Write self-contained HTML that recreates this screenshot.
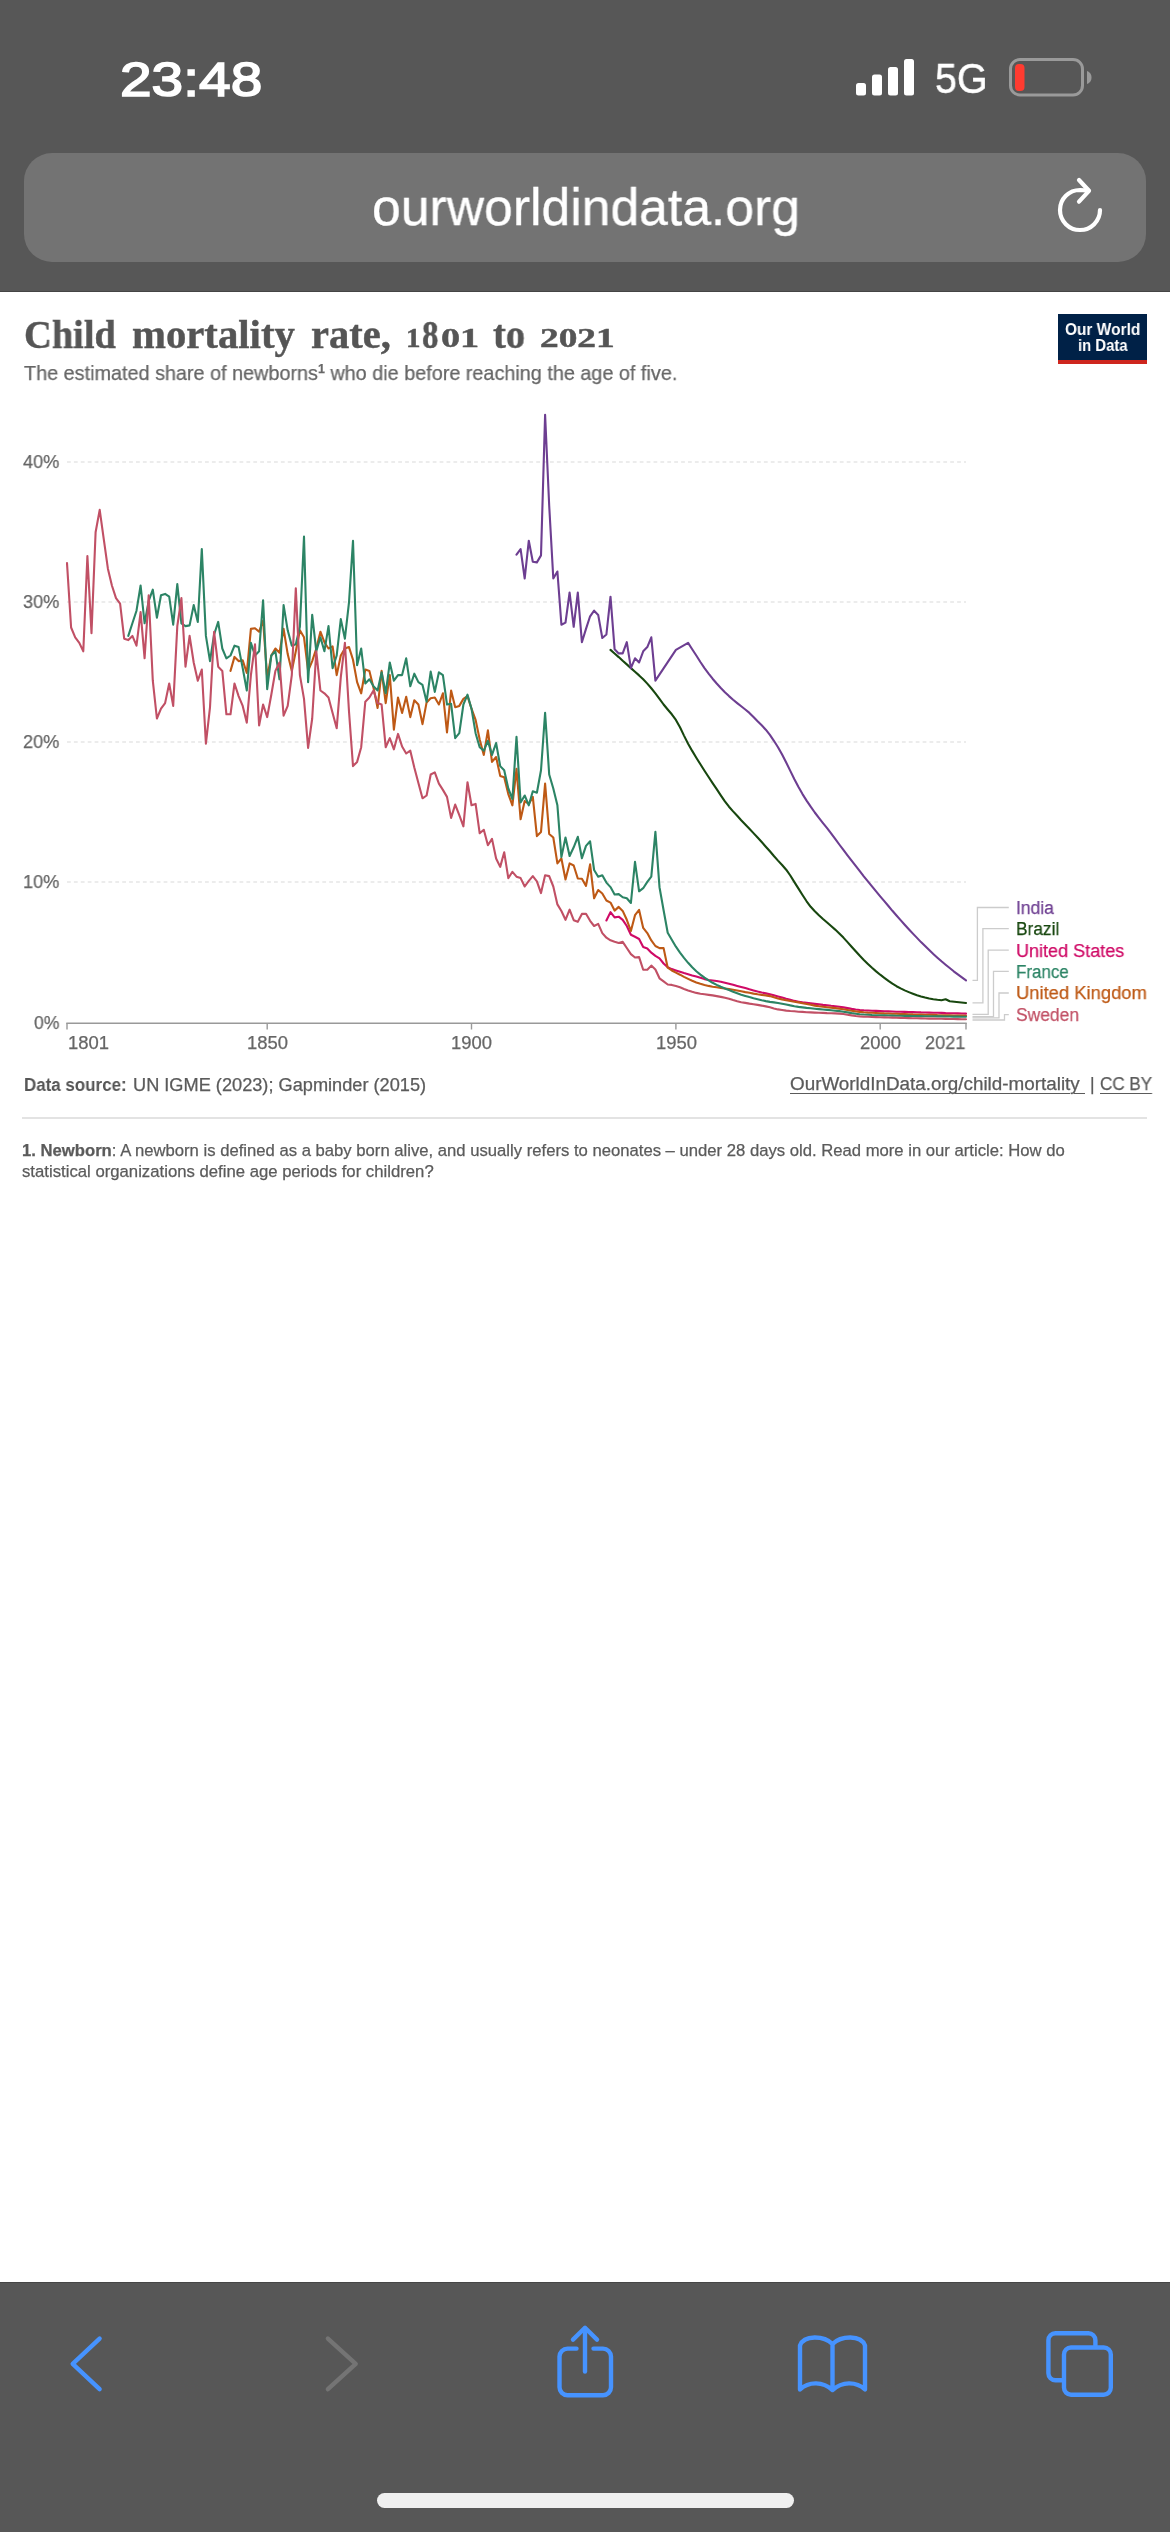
<!DOCTYPE html>
<html><head><meta charset="utf-8"><title>Child mortality rate</title>
<style>
html,body{margin:0;padding:0;background:#fff;}
body{width:1170px;height:2532px;position:relative;overflow:hidden;font-family:"Liberation Sans",sans-serif;}
.bar{position:absolute;left:0;width:1170px;background:#575757;}
#top{top:0;height:292px;border-bottom:0;}
#bot{top:2282px;height:250px;}
#urlbox{position:absolute;left:24px;top:153px;width:1122px;height:109px;border-radius:28px;background:#737373;}
#home{position:absolute;left:377px;top:2493px;width:417px;height:15px;border-radius:8px;background:#f0f0f0;}
.t{position:absolute;white-space:nowrap;transform-origin:0 50%;will-change:transform;}
.os{font-size:0.72em;letter-spacing:0.04em;}
.sup{font-size:0.62em;position:relative;top:-0.55em;font-weight:bold;}
u{text-decoration-thickness:1.2px;text-underline-offset:2.5px;}
#logo{position:absolute;left:1058.2px;top:314px;width:88.8px;height:45.5px;background:#002147;border-bottom:4px solid #ce261e;}
#sep{position:absolute;left:22px;top:1117px;width:1125px;height:1.5px;background:#e3e3e3;}
svg{position:absolute;left:0;top:0;}
</style></head><body>
<div id="top" class="bar"></div>
<div id="urlbox"></div>
<div id="bot" class="bar"></div>
<div id="home"></div>
<div id="logo"></div>
<div id="sep"></div>
<svg width="1170" height="2532" viewBox="0 0 1170 2532">
<!-- top/bottom bar edge lines -->
<rect x="0" y="291" width="1170" height="1" fill="#454545"/>
<rect x="0" y="2282" width="1170" height="1" fill="#454545"/>
<!-- signal bars -->
<g fill="#fff">
<rect x="856" y="83" width="10" height="12.5" rx="2.5"/>
<rect x="872" y="74.5" width="10" height="21" rx="2.5"/>
<rect x="888" y="67" width="10" height="28.5" rx="2.5"/>
<rect x="904" y="59" width="10" height="36.5" rx="2.5"/>
</g>
<!-- battery -->
<rect x="1010.5" y="59.5" width="72" height="35.5" rx="9.5" fill="none" stroke="#9a9a9a" stroke-width="3"/>
<path d="M1087 71 v13 c3.5 -1.2 4.5 -4 4.5 -6.5 c0 -2.500 -1 -5.300 -4.500 -6.500z" fill="#9a9a9a"/>
<rect x="1015" y="64" width="9.500" height="27" rx="4" fill="#ff3b30"/>
<!-- reload -->
<g fill="none" stroke="#fff" stroke-width="4.2" stroke-linecap="round" stroke-linejoin="round">
<path d="M1100 210 A20 20 0 1 1 1080 190 L1088.500 190.600"/>
<polyline points="1079,180 1089,190.800 1079,201.700"/>
</g>
<!-- chart -->
<g stroke="#dadada" stroke-width="1.2" stroke-dasharray="3.8,3.1" fill="none"><line x1="67" y1="462.0" x2="966" y2="462.0"/><line x1="67" y1="602.0" x2="966" y2="602.0"/><line x1="67" y1="742.0" x2="966" y2="742.0"/><line x1="67" y1="882.0" x2="966" y2="882.0"/></g>
<g stroke="#999" stroke-width="1.4" fill="none"><line x1="66.300" y1="1023.300" x2="966.700" y2="1023.300"/><line x1="67.0" y1="1023" x2="67.0" y2="1029.5"/><line x1="267.2" y1="1023" x2="267.2" y2="1029.5"/><line x1="471.5" y1="1023" x2="471.5" y2="1029.5"/><line x1="675.9" y1="1023" x2="675.9" y2="1029.5"/><line x1="880.2" y1="1023" x2="880.2" y2="1029.5"/><line x1="966.0" y1="1023" x2="966.0" y2="1029.5"/></g>
<g stroke="#ccc" stroke-width="1.3" fill="none"><polyline points="972.5,980.3 977.4,980.3 977.4,907.5 1008.8,907.5"/><polyline points="972.5,1002.9 982.9,1002.9 982.9,928.7 1008.8,928.7"/><polyline points="972.5,1014.3 988.2,1014.3 988.2,950.2 1008.8,950.2"/><polyline points="972.5,1016.6 993.5,1016.6 993.5,971.4 1008.8,971.4"/><polyline points="972.5,1017.9 999.0,1017.9 999.0,993.0 1008.8,993.0"/><polyline points="972.5,1020.0 1004.5,1020.0 1004.5,1014.7 1008.8,1014.7"/></g>
<g fill="none" stroke-width="2.1" stroke-linejoin="round" stroke-linecap="round">
<polyline points="610.5,649.9 614.6,653.5 618.7,657.1 622.7,660.8 626.8,664.4 630.9,668.1 635.0,671.7 639.1,675.4 643.2,679.3 647.3,683.6 651.3,688.3 655.4,693.3 659.5,698.8 663.6,704.5 667.7,709.5 671.8,714.3 675.9,719.9 680.0,727.2 684.0,735.6 688.1,743.7 692.2,750.9 696.3,757.7 700.4,764.3 704.5,770.7 708.6,777.0 712.6,783.1 716.7,789.2 720.8,795.3 724.9,801.3 729.0,806.7 733.1,811.4 737.2,815.8 741.2,820.2 745.3,824.5 749.4,828.8 753.5,833.1 757.6,837.5 761.7,842.0 765.8,846.7 769.9,851.3 773.9,856.0 778.0,860.6 782.1,865.0 786.2,869.7 790.3,875.5 794.4,882.1 798.5,888.6 802.5,895.0 806.6,901.3 810.7,906.8 814.8,911.2 818.9,915.2 823.0,919.0 827.1,922.5 831.1,926.0 835.2,929.6 839.3,933.4 843.4,937.6 847.5,942.1 851.6,946.7 855.7,951.3 859.8,955.8 863.8,959.9 867.9,963.9 872.0,967.8 876.1,971.4 880.2,974.7 884.3,977.8 888.4,980.9 892.4,983.7 896.5,986.2 900.6,988.4 904.7,990.4 908.8,992.1 912.9,993.7 917.0,995.2 921.0,996.4 925.1,997.5 929.2,998.5 933.3,999.2 937.4,999.8 941.5,1000.2 945.6,999.2 949.7,1001.3 966.0,1003.0" stroke="#18470F"/>
<polyline points="516.5,554.7 520.6,549.1 524.7,578.5 528.8,540.7 532.8,561.7 536.9,562.4 541.0,555.4 545.1,414.7 549.2,505.7 553.3,578.5 557.4,571.5 561.4,624.7 565.5,622.6 569.6,592.5 573.7,626.8 577.8,592.5 581.9,642.2 586.0,628.9 590.1,616.3 594.1,610.7 598.2,614.9 602.3,638.0 606.4,634.5 610.5,596.7 614.6,649.2 618.7,653.4 622.7,653.4 626.8,642.2 630.9,668.1 635.0,658.3 639.1,662.5 643.2,651.3 647.3,647.1 651.3,637.3 655.4,680.7 675.9,649.9 688.1,642.9 692.2,649.2 696.3,655.5 700.4,662.0 704.5,668.1 708.6,673.6 712.6,678.7 716.7,683.5 720.8,688.0 724.9,692.2 729.0,696.1 733.1,699.7 737.2,703.1 741.2,706.3 745.3,709.5 749.4,712.9 753.5,717.0 757.6,721.3 761.7,725.3 765.8,729.7 769.9,734.9 773.9,740.8 778.0,747.2 782.1,754.6 786.2,762.6 790.3,770.9 794.4,779.3 798.5,787.1 802.5,794.1 806.6,800.6 810.7,806.7 814.8,812.5 818.9,817.9 823.0,823.1 827.1,828.1 831.1,833.3 835.2,838.9 839.3,844.5 843.4,849.9 847.5,855.3 851.6,860.6 855.7,865.9 859.8,871.1 863.8,876.3 867.9,881.3 872.0,886.4 876.1,891.4 880.2,896.3 884.3,901.2 888.4,906.0 892.4,910.8 896.5,915.5 900.6,920.1 904.7,924.7 908.8,929.2 912.9,933.6 917.0,937.9 921.0,942.1 925.1,946.1 929.2,950.1 933.3,954.0 937.4,957.7 941.5,961.3 945.6,964.7 949.7,968.0 953.7,971.3 957.8,974.4 961.9,977.4 966.0,980.3" stroke="#6D3E91"/>
<polyline points="606.4,920.5 610.5,912.1 614.6,917.4 618.7,916.7 622.7,919.8 626.8,926.0 630.9,934.7 635.0,936.8 639.1,939.0 643.2,947.0 647.3,948.5 651.3,952.7 655.4,955.8 659.5,958.3 663.6,963.5 667.7,967.3 671.8,969.1 675.9,970.5 680.0,971.8 684.0,973.1 688.1,974.2 692.2,975.4 696.3,976.5 700.4,977.8 704.5,979.1 708.6,980.0 712.6,980.5 716.7,981.0 720.8,981.7 724.9,982.7 729.0,983.7 733.1,984.8 737.2,985.9 741.2,987.0 745.3,988.1 749.4,989.3 753.5,990.4 757.6,991.5 761.7,992.5 765.8,993.4 769.9,994.3 773.9,995.3 778.0,996.4 782.1,997.5 786.2,998.7 790.3,999.8 794.4,1000.9 798.5,1001.7 802.5,1002.4 806.6,1002.9 810.7,1003.4 814.8,1003.9 818.9,1004.4 823.0,1004.9 827.1,1005.3 831.1,1005.8 835.2,1006.2 839.3,1006.8 843.4,1007.4 847.5,1008.1 851.6,1008.9 855.7,1009.5 859.8,1010.0 863.8,1010.3 867.9,1010.5 872.0,1010.7 876.1,1010.9 880.2,1011.1 884.3,1011.3 888.4,1011.4 892.4,1011.5 896.5,1011.7 900.6,1011.8 904.7,1011.9 908.8,1012.0 912.9,1012.1 917.0,1012.2 921.0,1012.4 925.1,1012.5 929.2,1012.6 933.3,1012.7 937.4,1012.8 941.5,1012.9 945.6,1013.1 949.7,1013.2 953.7,1013.3 957.8,1013.4 961.9,1013.5 966.0,1013.6" stroke="#CF0A66"/>
<polyline points="230.5,670.9 234.5,656.9 238.6,661.1 242.7,660.4 246.8,673.0 250.9,628.9 255.0,628.2 259.1,631.7 263.1,620.5 267.2,677.9 271.3,655.5 275.4,648.5 279.5,652.7 283.6,628.9 287.7,654.1 291.8,670.9 295.8,651.3 299.9,630.3 304.0,637.3 308.1,670.9 312.2,661.1 316.3,648.5 320.4,631.7 324.4,642.2 328.5,648.5 332.6,646.4 336.7,675.1 340.8,655.5 344.9,648.5 349.0,647.1 353.0,659.7 357.1,682.1 361.2,693.3 365.3,669.5 369.4,670.9 373.5,687.7 377.6,708.0 381.6,670.9 385.7,703.1 389.8,675.1 393.9,729.7 398.0,697.5 402.1,712.9 406.2,696.8 410.3,717.1 414.3,700.3 418.4,704.5 422.5,724.1 426.6,702.4 430.7,698.2 434.8,697.5 438.9,704.5 442.9,693.3 447.0,732.5 451.1,690.5 455.2,707.3 459.3,705.9 463.4,698.9 467.5,696.1 471.5,708.7 475.6,719.9 479.7,739.5 483.8,754.9 487.9,730.4 492.0,761.9 496.1,757.0 500.2,775.9 504.2,777.3 508.3,794.1 512.4,805.3 516.5,768.9 520.6,819.3 524.7,801.1 528.8,803.9 532.8,796.9 536.9,836.1 541.0,831.9 545.1,783.6 549.2,834.0 553.3,837.5 557.4,863.4 561.4,858.5 565.5,879.5 569.6,863.4 573.7,865.5 577.8,878.5 581.9,878.8 586.0,885.9 590.1,864.4 594.1,898.3 598.2,890.0 602.3,893.5 606.4,900.5 610.5,902.6 614.6,910.6 618.7,906.9 622.7,910.9 626.8,919.8 630.9,931.0 635.0,915.2 639.1,909.9 643.2,927.9 647.3,933.1 651.3,940.4 655.4,946.0 659.5,948.1 663.6,948.1 667.7,967.7 671.8,970.5 675.9,972.6 680.0,974.7 684.0,976.9 688.1,978.9 692.2,980.8 696.3,982.4 700.4,983.7 704.5,984.9 708.6,985.9 712.6,986.7 716.7,987.3 720.8,987.9 724.9,988.5 729.0,989.1 733.1,989.8 737.2,990.5 741.2,991.3 745.3,992.1 749.4,992.8 753.5,993.6 757.6,994.3 761.7,994.9 765.8,995.4 769.9,996.1 773.9,997.3 778.0,998.5 782.1,999.4 786.2,1000.2 790.3,1001.0 794.4,1001.7 798.5,1002.4 802.5,1003.2 806.6,1004.0 810.7,1004.8 814.8,1005.6 818.9,1006.2 823.0,1006.7 827.1,1007.2 831.1,1007.6 835.2,1008.1 839.3,1008.6 843.4,1009.2 847.5,1010.0 851.6,1010.8 855.7,1011.4 859.8,1011.9 863.8,1012.3 867.9,1012.6 872.0,1012.8 876.1,1013.0 880.2,1013.2 884.3,1013.4 888.4,1013.5 892.4,1013.7 896.5,1013.8 900.6,1014.0 904.7,1014.1 908.8,1014.2 912.9,1014.4 917.0,1014.5 921.0,1014.6 925.1,1014.7 929.2,1014.8 933.3,1014.9 937.4,1015.1 941.5,1015.2 945.6,1015.3 949.7,1015.4 953.7,1015.5 957.8,1015.5 961.9,1015.6 966.0,1015.7" stroke="#BE5915"/>
<polyline points="128.3,635.9 132.4,623.3 136.5,610.7 140.6,585.5 144.6,623.3 148.7,600.9 152.8,589.7 156.9,617.7 161.0,595.3 165.1,593.9 169.2,596.7 173.2,624.7 177.3,584.1 181.4,623.3 185.5,626.1 189.6,625.4 193.7,605.1 197.8,621.9 201.8,549.1 205.9,635.9 210.0,661.1 214.1,634.5 218.2,621.9 222.3,648.5 226.4,658.3 230.5,655.5 234.5,645.7 238.6,647.1 242.7,668.1 246.8,690.5 250.9,642.9 255.0,655.5 259.1,651.3 263.1,600.2 267.2,689.1 271.3,655.5 275.4,651.3 279.5,679.3 283.6,605.1 287.7,630.3 291.8,645.7 295.8,644.3 299.9,626.8 304.0,536.5 308.1,682.1 312.2,614.9 316.3,651.3 320.4,637.3 324.4,651.3 328.5,626.1 332.6,668.1 336.7,655.5 340.8,619.1 344.9,638.7 349.0,602.3 353.0,540.7 357.1,665.3 361.2,648.5 365.3,683.5 369.4,679.3 373.5,686.3 377.6,690.5 381.6,672.3 385.7,693.3 389.8,662.5 393.9,680.7 398.0,675.1 402.1,675.1 406.2,658.3 410.3,686.3 414.3,673.7 418.4,682.1 422.5,684.9 426.6,701.7 430.7,671.6 434.8,691.9 438.9,672.3 442.9,675.1 447.0,704.5 451.1,703.8 455.2,738.1 459.3,733.2 463.4,704.5 467.5,694.7 471.5,708.7 475.6,733.2 479.7,747.2 483.8,750.7 487.9,740.9 492.0,754.9 496.1,743.0 500.2,766.1 504.2,770.3 508.3,788.5 512.4,799.0 516.5,736.7 520.6,802.5 524.7,795.5 528.8,805.3 532.8,791.3 536.9,792.7 541.0,770.3 545.1,712.9 549.2,774.5 553.3,788.5 557.4,805.3 561.4,857.1 565.5,837.5 569.6,856.0 573.7,847.3 577.8,836.8 581.9,858.2 586.0,845.9 590.1,841.3 594.1,870.0 598.2,876.7 602.3,875.3 606.4,882.6 610.5,887.1 614.6,894.5 618.7,894.1 622.7,897.3 626.8,898.3 630.9,903.0 635.0,861.9 639.1,891.3 643.2,888.2 647.3,881.9 651.3,876.7 655.4,831.9 659.5,887.2 663.6,910.3 667.7,932.7 671.8,939.7 675.9,946.7 680.0,952.6 684.0,957.9 688.1,962.8 692.2,967.3 696.3,971.2 700.4,974.6 704.5,977.6 708.6,980.3 712.6,982.8 716.7,984.9 720.8,986.8 724.9,988.5 729.0,990.1 733.1,991.8 737.2,993.3 741.2,994.7 745.3,995.9 749.4,997.1 753.5,998.2 757.6,999.2 761.7,1000.2 765.8,1001.1 769.9,1001.9 773.9,1002.4 778.0,1003.0 782.1,1003.7 786.2,1004.5 790.3,1005.4 794.4,1006.2 798.5,1006.9 802.5,1007.4 806.6,1007.9 810.7,1008.3 814.8,1008.7 818.9,1009.1 823.0,1009.5 827.1,1009.9 831.1,1010.3 835.2,1010.7 839.3,1011.1 843.4,1011.7 847.5,1012.4 851.6,1013.1 855.7,1013.7 859.8,1014.2 863.8,1014.5 867.9,1014.7 872.0,1015.0 876.1,1015.2 880.2,1015.3 884.3,1015.4 888.4,1015.5 892.4,1015.6 896.5,1015.7 900.6,1015.8 904.7,1015.9 908.8,1015.9 912.9,1016.0 917.0,1016.1 921.0,1016.1 925.1,1016.2 929.2,1016.3 933.3,1016.3 937.4,1016.4 941.5,1016.4 945.6,1016.5 949.7,1016.5 953.7,1016.6 957.8,1016.6 961.9,1016.7 966.0,1016.7" stroke="#2C8465"/>
<polyline points="67.0,563.1 71.1,627.5 75.2,637.3 79.3,642.9 83.3,651.3 87.4,556.1 91.5,633.1 95.6,532.3 99.7,509.9 103.8,539.3 107.9,568.7 111.9,585.5 116.0,598.1 120.1,603.7 124.2,638.7 128.3,640.1 132.4,635.9 136.5,645.7 140.6,612.1 144.6,658.3 148.7,595.3 152.8,680.7 156.9,718.5 161.0,708.7 165.1,703.1 169.2,683.5 173.2,705.9 177.3,626.1 181.4,598.1 185.5,666.7 189.6,635.9 193.7,662.5 197.8,680.7 201.8,669.5 205.9,743.7 210.0,707.3 214.1,631.7 218.2,666.7 222.3,670.9 226.4,714.3 230.5,714.3 234.5,683.5 238.6,696.1 242.7,705.9 246.8,722.7 250.9,675.1 255.0,644.3 259.1,725.5 263.1,704.5 267.2,717.1 271.3,694.7 275.4,670.9 279.5,662.5 283.6,715.7 287.7,705.9 291.8,675.1 295.8,588.3 299.9,675.1 304.0,698.9 308.1,747.9 312.2,718.5 316.3,651.3 320.4,690.5 324.4,693.3 328.5,697.5 332.6,712.9 336.7,728.3 340.8,677.2 344.9,642.9 349.0,711.5 353.0,766.1 357.1,761.9 361.2,747.2 365.3,701.7 369.4,697.5 373.5,690.5 377.6,703.1 381.6,704.5 385.7,747.2 389.8,738.1 393.9,749.3 398.0,733.9 402.1,746.5 406.2,753.5 410.3,750.7 414.3,767.5 418.4,782.9 422.5,798.3 426.6,795.5 430.7,774.5 434.8,772.4 438.9,783.6 442.9,789.9 447.0,796.9 451.1,817.9 455.2,804.6 459.3,815.1 463.4,826.3 467.5,782.2 471.5,805.3 475.6,803.9 479.7,833.3 483.8,829.8 487.9,845.2 492.0,838.9 496.1,858.5 500.2,866.9 504.2,852.2 508.3,878.1 512.4,871.8 516.5,876.7 520.6,878.1 524.7,886.5 528.8,880.9 532.8,876.1 536.9,881.3 541.0,893.1 545.1,875.3 549.2,876.1 553.3,886.5 557.4,904.4 561.4,911.0 565.5,919.8 569.6,909.6 573.7,920.2 577.8,921.8 581.9,913.9 586.0,913.7 590.1,920.8 594.1,926.0 598.2,923.9 602.3,933.1 606.4,937.7 610.5,940.3 614.6,941.8 618.7,942.9 622.7,941.8 626.8,948.0 630.9,954.1 635.0,957.5 639.1,957.1 643.2,969.8 647.3,969.8 651.3,965.6 655.4,969.5 659.5,978.3 663.6,981.4 667.7,984.5 671.8,984.9 675.9,985.9 680.0,987.3 684.0,989.0 688.1,990.5 692.2,991.8 696.3,992.9 700.4,993.7 704.5,994.3 708.6,994.9 712.6,995.4 716.7,996.1 720.8,996.9 724.9,997.8 729.0,998.8 733.1,1000.1 737.2,1001.3 741.2,1002.2 745.3,1002.9 749.4,1003.6 753.5,1004.2 757.6,1004.9 761.7,1005.6 765.8,1006.4 769.9,1007.2 773.9,1008.4 778.0,1009.4 782.1,1010.0 786.2,1010.6 790.3,1011.0 794.4,1011.3 798.5,1011.7 802.5,1011.9 806.6,1012.2 810.7,1012.4 814.8,1012.6 818.9,1012.8 823.0,1012.9 827.1,1013.1 831.1,1013.2 835.2,1013.4 839.3,1013.6 843.4,1014.0 847.5,1014.7 851.6,1015.4 855.7,1016.0 859.8,1016.4 863.8,1016.7 867.9,1016.8 872.0,1017.0 876.1,1017.1 880.2,1017.3 884.3,1017.4 888.4,1017.5 892.4,1017.6 896.5,1017.8 900.6,1017.9 904.7,1018.0 908.8,1018.1 912.9,1018.2 917.0,1018.3 921.0,1018.4 925.1,1018.5 929.2,1018.6 933.3,1018.6 937.4,1018.7 941.5,1018.8 945.6,1018.9 949.7,1019.0 953.7,1019.0 957.8,1019.1 961.9,1019.2 966.0,1019.2" stroke="#C15065"/>
</g>
<!-- toolbar icons -->
<g fill="none" stroke="#4693ff" stroke-width="4.4" stroke-linecap="round" stroke-linejoin="round">
<polyline points="99.600,2338.600 72.700,2363.900 99.600,2389.200"/>
<polyline points="327.900,2338.600 355.700,2363.900 327.900,2389.200" stroke="#747474"/>
<!-- share -->
<path d="M576.500 2348.600 H567.500 a8 8 0 0 0 -8 8 V2387.200 a8 8 0 0 0 8 8 H603 a8 8 0 0 0 8 -8 V2356.600 a8 8 0 0 0 -8 -8 H593.500"/>
<line x1="585" y1="2328.500" x2="585" y2="2371.500"/>
<polyline points="573,2339.600 585,2327.800 597,2339.600"/>
<!-- book -->
<path d="M832.500 2344 C824 2335.500 804 2334.500 800 2345.500 V2389.500 C809 2381 823 2381.500 832.500 2390 C842 2381.500 856 2381 865 2389.500 V2345.500 C861 2334.500 841 2335.500 832.500 2344 V2390"/>
<!-- tabs -->
<rect x="1064" y="2347.500" width="46.800" height="47.200" rx="7"/>
<path d="M1061.500 2380.300 H1055.400 a7 7 0 0 1 -7 -7 V2340.200 a7 7 0 0 1 7 -7 H1088.400 a7 7 0 0 1 7 7 V2345.500"/>
</g>
</svg>
<div id="time" class="t" style="left:120.3px;top:55.0px;font:normal 49.00px/49.00px 'Liberation Sans', sans-serif;color:#fff;transform:scaleX(1.1604);-webkit-text-stroke:1.6px #fff;">23:48</div>
<div id="net" class="t" style="left:935.0px;top:58.0px;font:normal 42.50px/42.50px 'Liberation Sans', sans-serif;color:#fff;transform:scaleX(0.9259);-webkit-text-stroke:0.5px #fff;">5G</div>
<div id="url" class="t" style="left:372.0px;top:181.0px;font:normal 52.00px/52.00px 'Liberation Sans', sans-serif;color:#fff;transform:scaleX(0.9937);-webkit-text-stroke:0.3px #fff;">ourworldindata.org</div>
<div id="tt1" class="t" style="left:24.2px;top:314.7px;font:bold 39.00px/39.00px 'Liberation Serif', serif;color:#555;transform:scaleX(0.9859);-webkit-text-stroke:0.45px #555;">Child</div>
<div id="tt2" class="t" style="left:131.7px;top:314.7px;font:bold 39.00px/39.00px 'Liberation Serif', serif;color:#555;transform:scaleX(1.0439);-webkit-text-stroke:0.45px #555;">mortality</div>
<div id="tt3" class="t" style="left:310.9px;top:314.7px;font:bold 39.00px/39.00px 'Liberation Serif', serif;color:#555;transform:scaleX(1.0383);-webkit-text-stroke:0.45px #555;">rate,</div>
<div id="tt4" class="t" style="left:406.0px;top:324.9px;font:bold 26.60px/26.60px 'Liberation Serif', serif;color:#555;transform:scaleX(1.0905);-webkit-text-stroke:0.45px #555;">1</div>
<div id="tt5" class="t" style="left:422.3px;top:314.7px;font:bold 39.00px/39.00px 'Liberation Serif', serif;color:#555;transform:scaleX(0.8462);-webkit-text-stroke:0.45px #555;">8</div>
<div id="tt6" class="t" style="left:440.5px;top:324.9px;font:bold 26.60px/26.60px 'Liberation Serif', serif;color:#555;transform:scaleX(1.4364);-webkit-text-stroke:0.45px #555;">01</div>
<div id="tt7" class="t" style="left:493.2px;top:314.7px;font:bold 39.00px/39.00px 'Liberation Serif', serif;color:#555;transform:scaleX(0.9877);-webkit-text-stroke:0.45px #555;">to</div>
<div id="tt8" class="t" style="left:540.3px;top:324.9px;font:bold 26.60px/26.60px 'Liberation Serif', serif;color:#555;transform:scaleX(1.4045);-webkit-text-stroke:0.45px #555;">2021</div>
<div id="sub" class="t" style="left:23.7px;top:362.5px;font:normal 20.30px/20.30px 'Liberation Sans', sans-serif;color:#666;transform:scaleX(0.9768);-webkit-text-stroke:0.25px currentColor;">The estimated share of newborns<span class="sup">1</span> who die before reaching the age of five.</div>
<div id="logo1" class="t" style="left:1064.7px;top:320.7px;font:bold 17.20px/17.20px 'Liberation Sans', sans-serif;color:#fff;transform:scaleX(0.8994);">Our World</div>
<div id="logo2" class="t" style="left:1077.9px;top:337.1px;font:bold 17.20px/17.20px 'Liberation Sans', sans-serif;color:#fff;transform:scaleX(0.8654);">in Data</div>
<div id="y40" class="t" style="left:23.0px;top:452.7px;font:normal 18.80px/18.80px 'Liberation Sans', sans-serif;color:#666;transform:scaleX(0.9629);-webkit-text-stroke:0.25px currentColor;">40%</div>
<div id="y30" class="t" style="left:23.0px;top:592.7px;font:normal 18.80px/18.80px 'Liberation Sans', sans-serif;color:#666;transform:scaleX(0.9629);-webkit-text-stroke:0.25px currentColor;">30%</div>
<div id="y20" class="t" style="left:23.0px;top:732.7px;font:normal 18.80px/18.80px 'Liberation Sans', sans-serif;color:#666;transform:scaleX(0.9629);-webkit-text-stroke:0.25px currentColor;">20%</div>
<div id="y10" class="t" style="left:23.0px;top:872.7px;font:normal 18.80px/18.80px 'Liberation Sans', sans-serif;color:#666;transform:scaleX(0.9629);-webkit-text-stroke:0.25px currentColor;">10%</div>
<div id="y0" class="t" style="left:33.8px;top:1013.7px;font:normal 18.80px/18.80px 'Liberation Sans', sans-serif;color:#666;transform:scaleX(0.9353);-webkit-text-stroke:0.25px currentColor;">0%</div>
<div id="x1801" class="t" style="left:67.6px;top:1033.8px;font:normal 18.40px/18.40px 'Liberation Sans', sans-serif;color:#666;transform:scaleX(1.0019);-webkit-text-stroke:0.25px currentColor;">1801</div>
<div id="x1850" class="t" style="left:247.0px;top:1033.8px;font:normal 18.40px/18.40px 'Liberation Sans', sans-serif;color:#666;transform:scaleX(1.0019);-webkit-text-stroke:0.25px currentColor;">1850</div>
<div id="x1900" class="t" style="left:451.0px;top:1033.8px;font:normal 18.40px/18.40px 'Liberation Sans', sans-serif;color:#666;transform:scaleX(1.0019);-webkit-text-stroke:0.25px currentColor;">1900</div>
<div id="x1950" class="t" style="left:655.5px;top:1033.8px;font:normal 18.40px/18.40px 'Liberation Sans', sans-serif;color:#666;transform:scaleX(1.0019);-webkit-text-stroke:0.25px currentColor;">1950</div>
<div id="x2000" class="t" style="left:860.3px;top:1033.8px;font:normal 18.40px/18.40px 'Liberation Sans', sans-serif;color:#666;transform:scaleX(1.0019);-webkit-text-stroke:0.25px currentColor;">2000</div>
<div id="x2021" class="t" style="left:924.9px;top:1033.8px;font:normal 18.40px/18.40px 'Liberation Sans', sans-serif;color:#666;transform:scaleX(0.9848);-webkit-text-stroke:0.25px currentColor;">2021</div>
<div id="leg0" class="t" style="left:1015.7px;top:897.8px;font:normal 19.20px/19.20px 'Liberation Sans', sans-serif;color:#6D3E91;transform:scaleX(0.9084);-webkit-text-stroke:0.25px currentColor;">India</div>
<div id="leg1" class="t" style="left:1015.7px;top:919.0px;font:normal 19.20px/19.20px 'Liberation Sans', sans-serif;color:#18470F;transform:scaleX(0.9024);-webkit-text-stroke:0.25px currentColor;">Brazil</div>
<div id="leg2" class="t" style="left:1015.7px;top:940.5px;font:normal 19.20px/19.20px 'Liberation Sans', sans-serif;color:#CF0A66;transform:scaleX(0.9401);-webkit-text-stroke:0.25px currentColor;">United States</div>
<div id="leg3" class="t" style="left:1015.7px;top:961.7px;font:normal 19.20px/19.20px 'Liberation Sans', sans-serif;color:#2C8465;transform:scaleX(0.8841);-webkit-text-stroke:0.25px currentColor;">France</div>
<div id="leg4" class="t" style="left:1015.7px;top:983.3px;font:normal 19.20px/19.20px 'Liberation Sans', sans-serif;color:#BE5915;transform:scaleX(0.9588);-webkit-text-stroke:0.25px currentColor;">United Kingdom</div>
<div id="leg5" class="t" style="left:1015.7px;top:1005.0px;font:normal 19.20px/19.20px 'Liberation Sans', sans-serif;color:#C15065;transform:scaleX(0.9085);-webkit-text-stroke:0.25px currentColor;">Sweden</div>
<div id="src1" class="t" style="left:23.8px;top:1076.5px;font:normal 17.60px/17.60px 'Liberation Sans', sans-serif;color:#555;transform:scaleX(0.9627);"><b>Data source:</b></div>
<div id="src2" class="t" style="left:132.7px;top:1076.5px;font:normal 17.60px/17.60px 'Liberation Sans', sans-serif;color:#5b5b5b;transform:scaleX(1.0336);-webkit-text-stroke:0.25px currentColor;">UN IGME (2023); Gapminder (2015)</div>
<div id="link1" class="t" style="left:789.5px;top:1075.9px;font:normal 17.60px/17.60px 'Liberation Sans', sans-serif;color:#5b5b5b;transform:scaleX(1.0711);-webkit-text-stroke:0.25px currentColor;"><u>OurWorldInData.org/child-mortality&nbsp;</u></div>
<div id="link2" class="t" style="left:1089.8px;top:1075.9px;font:normal 17.60px/17.60px 'Liberation Sans', sans-serif;color:#5b5b5b;transform:scaleX(1.0048);-webkit-text-stroke:0.25px currentColor;">|</div>
<div id="link3" class="t" style="left:1099.9px;top:1075.9px;font:normal 17.60px/17.60px 'Liberation Sans', sans-serif;color:#5b5b5b;transform:scaleX(0.9687);-webkit-text-stroke:0.25px currentColor;"><u>CC BY</u></div>
<div id="fn1" class="t" style="left:22.3px;top:1142.4px;font:normal 16.30px/16.30px 'Liberation Sans', sans-serif;color:#5b5b5b;transform:scaleX(1.0232);-webkit-text-stroke:0.25px currentColor;"><b>1. Newborn</b>: A newborn is defined as a baby born alive, and usually refers to neonates – under 28 days old. Read more in our article: How do</div>
<div id="fn2" class="t" style="left:22.3px;top:1162.9px;font:normal 16.30px/16.30px 'Liberation Sans', sans-serif;color:#5b5b5b;transform:scaleX(1.0268);-webkit-text-stroke:0.25px currentColor;">statistical organizations define age periods for children?</div>
</body></html>
